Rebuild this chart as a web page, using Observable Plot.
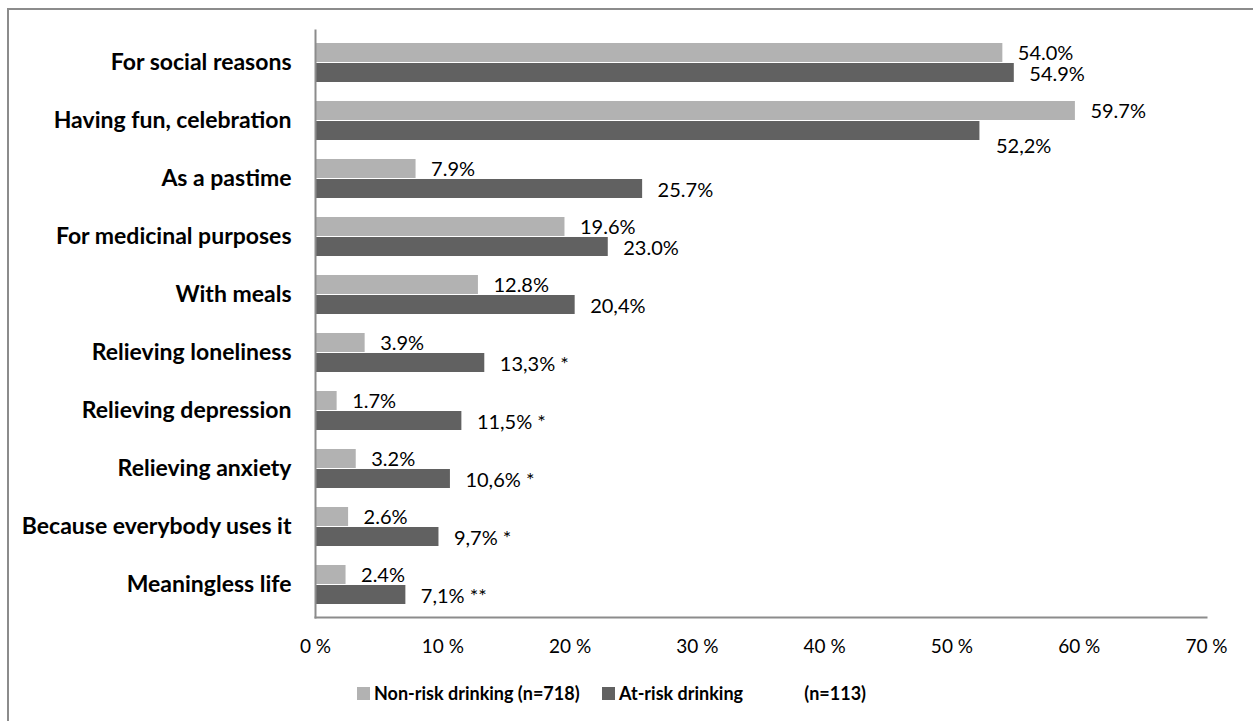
<!DOCTYPE html>
<html>
<head>
<meta charset="utf-8">
<script src="https://cdn.jsdelivr.net/npm/d3@7"></script>
<script src="https://cdn.jsdelivr.net/npm/@observablehq/plot@0.6"></script>
<style>
  html, body { margin: 0; padding: 0; background: #fff; width: 1253px; height: 721px; overflow: hidden; }
  #border { position: absolute; left: 7px; top: 8px; width: 1300px; height: 800px; border: 2px solid #8c8c8c; box-sizing: border-box; }
  #chart { position: absolute; left: 0; top: 0; }
  #legend { position: absolute; left: 0; top: 682px; width: 1253px; font-family: Lato, sans-serif; font-weight: bold; font-size: 18px; color: #000; }
  .item { position: absolute; top: 0; display: flex; align-items: center; white-space: pre; }
  .sw { width: 13px; height: 13px; margin-right: 4px; }
</style>
</head>
<body>
<div id="border"></div>
<div id="chart"></div>
<div id="legend"></div>
<script>
const categories = [
  "For social reasons",
  "Having fun, celebration",
  "As a pastime",
  "For medicinal purposes",
  "With meals",
  "Relieving loneliness",
  "Relieving depression",
  "Relieving anxiety",
  "Because everybody uses it",
  "Meaningless life"
];
const seriesNames = ["Non-risk drinking (n=718)", "At-risk drinking              (n=113)"];
const nonRisk = [54.0, 59.7, 7.9, 19.6, 12.8, 3.9, 1.7, 3.2, 2.6, 2.4];
const atRisk = [54.9, 52.2, 25.7, 23.0, 20.4, 13.3, 11.5, 10.6, 9.7, 7.1];
const nonRiskLabels = ["54.0%", "59.7%", "7.9%", "19.6%", "12.8%", "3.9%", "1.7%", "3.2%", "2.6%", "2.4%"];
const atRiskLabels = ["54.9%", "52,2%", "25.7%", "23.0%", "20,4%", "13,3% *", "11,5% *", "10,6% *", "9,7% *", "7,1% **"];
const xTicks = [0, 10, 20, 30, 40, 50, 60, 70];
const colors = ["#b2b2b2", "#616161"];

const light = categories.map((c, i) => ({category: c, value: nonRisk[i], label: nonRiskLabels[i]}));
const dark = categories.map((c, i) => ({category: c, value: atRisk[i], label: atRiskLabels[i], other: nonRisk[i]}));

const half = 20;
const chart = Plot.plot({
  width: 1253,
  height: 665,
  marginLeft: 315,
  marginRight: 47,
  marginTop: 30,
  marginBottom: 48,
  style: {fontFamily: "Lato, sans-serif", background: "transparent", color: "#000", overflow: "visible"},
  x: {domain: [0, 70], ticks: xTicks, tickFormat: d => d + " %", tickSize: 0, tickPadding: 22, label: null},
  y: {domain: categories, paddingInner: 0.32, paddingOuter: 0.16, tickSize: 0, tickPadding: 24, label: null},
  marks: [
    Plot.barX(light, {x: "value", y: "category", fill: colors[0], insetBottom: half}),
    Plot.barX(dark, {x: "value", y: "category", fill: colors[1], insetTop: half}),
    Plot.text(light, {x: "value", y: "category", text: "label", textAnchor: "start", dx: 15, dy: -9, fontSize: 20, fill: "#000"}),
    Plot.text(dark.filter(d => d.value >= d.other), {x: "value", y: "category", text: "label", textAnchor: "start", dx: 15, dy: 12, fontSize: 20, fill: "#000"}),
    Plot.text(dark.filter(d => d.value < d.other), {x: "value", y: "category", text: "label", textAnchor: "start", dx: 16, dy: 26, fontSize: 20, fill: "#000"}),
    Plot.axisX({ticks: xTicks, tickFormat: d => d + " %", tickSize: 0, tickPadding: 22, fontSize: 19, label: null}),
    Plot.axisY({tickSize: 0, tickPadding: 24, fontSize: 23, fontWeight: "bold", label: null}),
    Plot.frame({anchor: "left", stroke: "#8c8c8c", strokeWidth: 2}),
    Plot.frame({anchor: "bottom", stroke: "#8c8c8c", strokeWidth: 2})
  ]
});
document.getElementById("chart").appendChild(chart);

const legend = document.getElementById("legend");
const lefts = [357, 602];
seriesNames.forEach((name, i) => {
  const item = document.createElement("div");
  item.className = "item";
  item.style.left = lefts[i] + "px";
  const sw = document.createElement("div");
  sw.className = "sw";
  sw.style.background = colors[i];
  const t = document.createElement("span");
  t.textContent = name;
  item.appendChild(sw);
  item.appendChild(t);
  legend.appendChild(item);
});
</script>
</body>
</html>
